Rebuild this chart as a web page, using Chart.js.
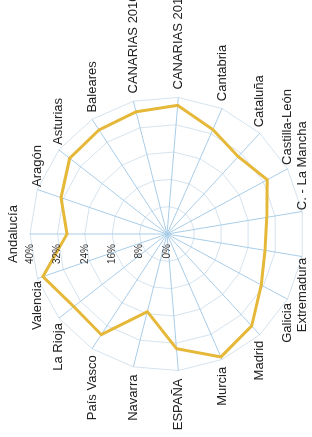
<!DOCTYPE html>
<html>
<head>
<meta charset="utf-8">
<script src="https://cdn.jsdelivr.net/npm/chart.js@4/dist/chart.umd.min.js"></script>
<style>
  html, body { margin: 0; padding: 0; background: #fff; overflow: hidden; }
  body { width: 312px; height: 437px; position: relative; }
  #wrap {
    position: absolute; left: 0; top: 0;
    width: 437px; height: 312px;
    transform-origin: 0 0;
  }
</style>
</head>
<body>
<div id="wrap"><canvas id="radar" width="437" height="312"></canvas></div>
<script>
// regiones (en el orden de las agujas del reloj, empezando arriba)
var regiones = ['Andalucía', 'Aragón', 'Asturias', 'Baleares', 'CANARIAS 2010', 'CANARIAS 2011',
    'Cantabria', 'Cataluña', 'Castilla-León', 'C. - La Mancha', 'Extremadura', 'Galicia',
    'Madrid', 'Murcia', 'ESPAÑA', 'Navarra', 'País Vasco', 'La Rioja', 'Valencia'];

// porcentaje por region
var valores = [29.2, 32.7, 36.0, 36.3, 36.8, 37.7,
    33.3, 30.7, 33.3, 29.5, 29.0, 31.3,
    36.5, 39.2, 33.6, 23.4, 35.1, 34.5, 38.3];

var ticksEje = [0, 8, 16, 24, 32, 40];
var etiquetasEje = ['0%', '8%', '16%', '24%', '32%', '40%'];

// el grafico original esta girado 90 grados; centro en la imagen final
var CENTRO_X = 167, CENTRO_Y = 234;
var FUENTE = '"Liberation Sans", Arial, sans-serif';

// etiquetas del eje a la izquierda de la linea de Andalucia
var tickLabels = {
    id: 'tickLabels',
    afterDatasetsDraw: function (chart) {
        var s = chart.scales.r;
        var ctx = chart.ctx;
        ctx.save();
        ctx.font = '10px ' + FUENTE;
        ctx.fillStyle = '#333';
        ctx.textAlign = 'right';
        ctx.textBaseline = 'middle';
        ticksEje.forEach(function (v, i) {
            var d = s.getDistanceFromCenterForValue(v);
            ctx.fillText(etiquetasEje[i], s.xCenter - 10, s.yCenter - d);
        });
        ctx.restore();
    }
};

// nombres de region estilo Excel: centrados en vertical sobre el anillo exterior,
// pegados a un lado; si chocan con la siguiente se apartan hacia fuera
var regionLabels = {
    id: 'regionLabels',
    afterDatasetsDraw: function (chart) {
        var s = chart.scales.r;
        var ctx = chart.ctx;
        var n = regiones.length;
        var h = 13;
        ctx.save();
        ctx.font = '13px ' + FUENTE;
        ctx.fillStyle = '#222';
        ctx.textBaseline = 'middle';

        var cajas = [];
        for (var i = 0; i < n; i++) {
            var p = s.getPointPosition(i, s.drawingArea);
            var ang = i * 360 / n;
            var w = ctx.measureText(regiones[i]).width;
            var off = 8 * Math.abs(Math.sin(ang * Math.PI / 180));
            var c = { x: p.x, y: p.y, w: w, ang: ang };
            if (i === 0) {
                c.left = p.x - w / 2; c.y = p.y - 10 - h / 2;
            } else if (ang < 180) {
                c.left = p.x + off;
            } else {
                c.left = p.x - off - w;
            }
            cajas.push(c);
        }
        // lado derecho: de abajo hacia arriba, evitar solapes
        for (var j = n - 1; j > 0; j--) {
            var a = cajas[j], b = cajas[j + 1];
            if (!b || a.ang >= 180 || b.ang >= 180) continue;
            var solapaY = Math.abs(a.y - b.y) < h;
            var solapaX = a.left < b.left + b.w && b.left < a.left + a.w;
            if (solapaY && solapaX) a.left = b.left + b.w + 2;
        }
        cajas.forEach(function (c, i) {
            ctx.textAlign = 'left';
            ctx.fillText(regiones[i], c.left, c.y);
        });
        ctx.restore();
    }
};

var chart = new Chart(document.getElementById('radar'), {
    type: 'radar',
    data: {
        labels: regiones,
        datasets: [{
            data: valores,
            borderColor: '#e6b83a',
            borderWidth: 3,
            fill: false,
            pointRadius: 0,
            tension: 0
        }]
    },
    options: {
        responsive: false,
        animation: false,
        devicePixelRatio: 1,
        layout: { padding: { top: 30, bottom: 8, left: 66, right: 97 } },
        plugins: { legend: { display: false }, tooltip: { enabled: false } },
        scales: {
            r: {
                min: 0, max: 40,
                ticks: { stepSize: 8, display: false },
                grid: { color: '#d5e3ee', lineWidth: 1 },
                angleLines: { color: '#a9cde8', lineWidth: 1 },
                pointLabels: { display: false }
            }
        }
    },
    plugins: [tickLabels, regionLabels]
});

// colocar el centro del radar donde esta en la imagen
var s = chart.scales.r;
var wrap = document.getElementById('wrap');
var ty = CENTRO_Y + s.xCenter;
var tx = CENTRO_X - s.yCenter;
wrap.style.transform = 'translate(' + tx + 'px,' + ty + 'px) rotate(-90deg)';
</script>
</body>
</html>
